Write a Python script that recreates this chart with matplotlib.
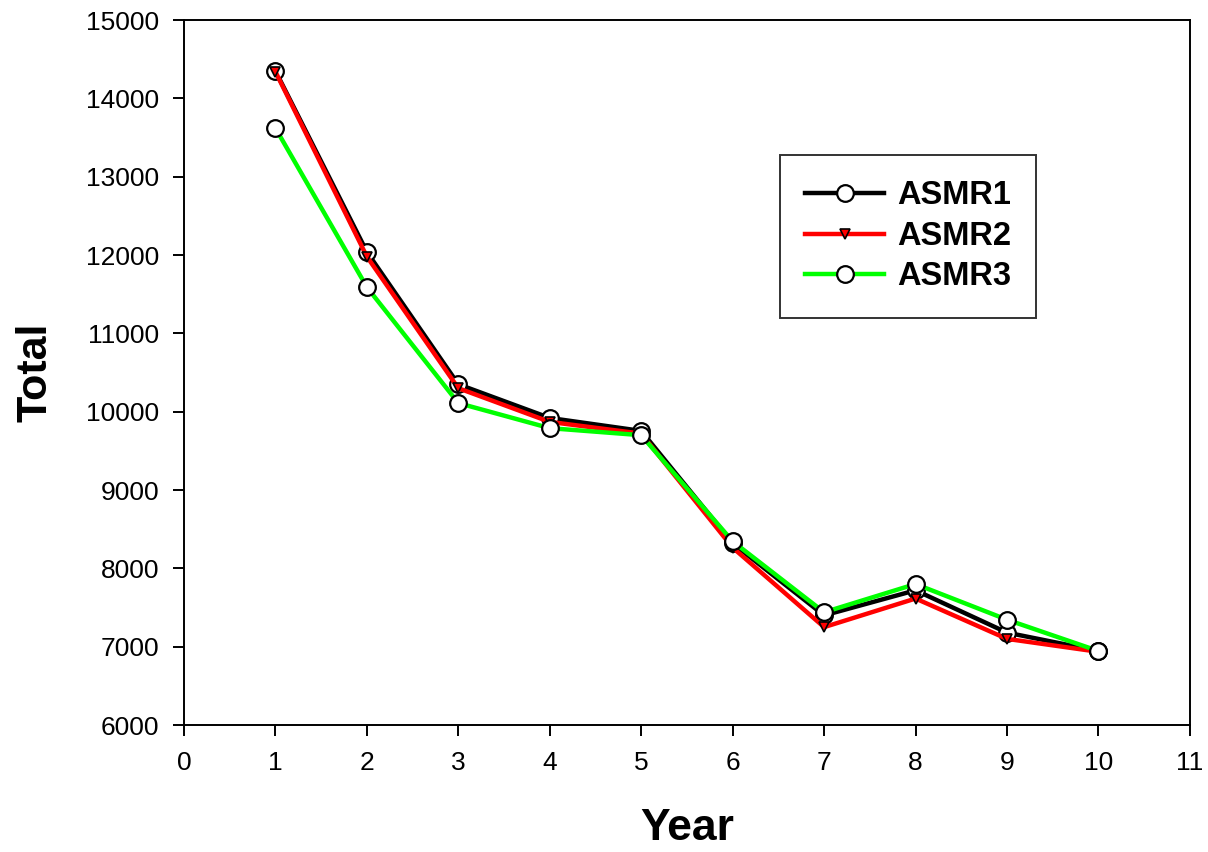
import numpy as np
import matplotlib.pyplot as plt

plt.rcParams['font.family'] = ['Liberation Sans', 'DejaVu Sans']

years = [1, 2, 3, 4, 5, 6, 7, 8, 9, 10]
asmr1 = [14350, 12040, 10350, 9920, 9755, 8320, 7400, 7720, 7180, 6945]
asmr2 = [14340, 11980, 10300, 9870, 9720, 8265, 7250, 7615, 7100, 6935]
asmr3 = [13620, 11590, 10110, 9790, 9700, 8345, 7440, 7800, 7345, 6945]

fig = plt.figure(figsize=(12.08, 8.52), dpi=100)
ax = fig.add_axes([0.1523, 0.149, 0.8327, 0.8275])

ax.plot(years, asmr1, color='black', lw=3.2, marker='o', ms=12,
        mfc='white', mec='black', mew=1.6, label='ASMR1', zorder=3)
ax.plot(years, asmr2, color='#ff0000', lw=3.2, marker='v', ms=7,
        mfc='#ff0000', mec='black', mew=1.2, label='ASMR2', zorder=4)
ax.plot(years, asmr3, color='#00ff00', lw=3.2, marker='o', ms=12,
        mfc='white', mec='black', mew=1.6, label='ASMR3', zorder=5)

ax.set_xlim(0, 11)
ax.set_ylim(6000, 15000)
ax.set_xticks(range(0, 12))
ax.set_yticks(range(6000, 15001, 1000))
ax.tick_params(labelsize=19, length=8, width=1.4, direction='out')
ax.tick_params(axis='y', pad=10)
ax.tick_params(axis='x', pad=11)
for s in ax.spines.values():
    s.set_linewidth(1.4)

ax.set_xlabel('Year', fontsize=32, fontweight='bold', va='top')
ax.set_ylabel('Total', fontsize=31, fontweight='bold')
ax.xaxis.set_label_coords(0.5, -0.118)
ax.yaxis.set_label_coords(-0.128, 0.5)

leg = ax.legend(loc='upper left', bbox_to_anchor=(0.5925, 0.8085),
                prop={'weight': 'bold', 'size': 23.5}, frameon=True, fancybox=False,
                edgecolor='black', handlelength=2.4, borderpad=0.78,
                labelspacing=0.29, handletextpad=0.4, borderaxespad=0)
leg.get_frame().set_linewidth(1.4)

fig.savefig('out.png', dpi=100)
